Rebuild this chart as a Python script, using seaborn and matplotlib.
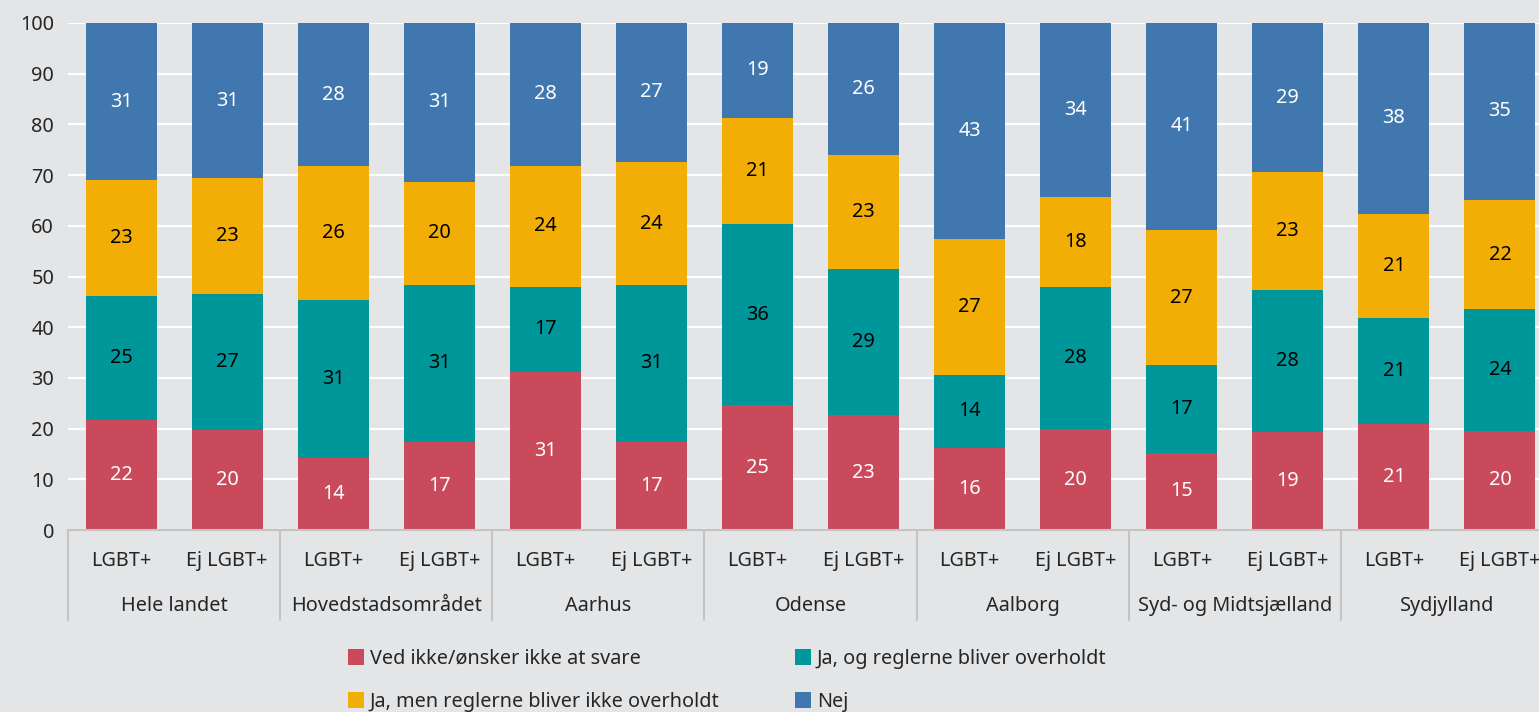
import numpy as np
import pandas as pd
import matplotlib
matplotlib.use('Agg')
import matplotlib.pyplot as plt
import seaborn as sns
from matplotlib.lines import Line2D

# Data (percent of respondents)
groups = ['Hele landet', 'Hovedstadsområdet', 'Aarhus', 'Odense',
          'Aalborg', 'Syd- og Midtsjælland', 'Sydjylland']
subgroups = ['LGBT+', 'Ej LGBT+']

ved_ikke = [21.6, 19.8, 14.2, 17.4, 31.2, 17.4, 24.6, 22.6, 16.2, 19.9, 15.2, 19.4, 21.0, 19.6]
ja_overholdt = [24.6, 26.7, 31.1, 30.9, 16.8, 30.9, 35.8, 28.8, 14.4, 28.0, 17.3, 28.0, 20.8, 23.9]
ja_ikke_overholdt = [22.8, 22.9, 26.4, 20.4, 23.8, 24.3, 20.9, 22.6, 26.8, 17.7, 26.7, 23.2, 20.6, 21.6]
nej = [31.0, 30.6, 28.3, 31.3, 28.2, 27.4, 18.7, 26.0, 42.6, 34.4, 40.8, 29.4, 37.6, 34.9]

series_names = ['Ved ikke/ønsker ikke at svare', 'Ja, og reglerne bliver overholdt',
                'Ja, men reglerne bliver ikke overholdt', 'Nej']
colors = ['#C94B5B', '#00979B', '#F2AE05', '#3F77AE']
text_colors = ['white', 'black', 'black', 'white']

BG = '#E4E5E7'
FONT = 'Noto Sans'
FS = 14.3

# build table
keys = [f'{g}|{s}' for g in groups for s in subgroups]
df = pd.DataFrame({'key': keys,
                   series_names[0]: ved_ikke,
                   series_names[1]: ja_overholdt,
                   series_names[2]: ja_ikke_overholdt,
                   series_names[3]: nej})
cum = df[series_names].cumsum(axis=1)

sns.set_theme(style='white')
plt.rcParams['font.family'] = [FONT, 'DejaVu Sans']

fig = plt.figure(figsize=(15.39, 7.12), dpi=100, facecolor=BG)
ax = fig.add_axes([68 / 1539, 1 - 530 / 712, (1553 - 68) / 1539, (530 - 23) / 712])
ax.set_facecolor(BG)

# stacked bars: draw cumulative totals from the top layer down
for i in range(len(series_names) - 1, -1, -1):
    sns.barplot(data=cum.assign(key=df['key']), x='key', y=series_names[i], order=keys,
                color=colors[i], saturation=1, width=0.67, linewidth=0, ax=ax, zorder=2)

# segment labels
for j in range(len(keys)):
    bottom = 0
    for i, name in enumerate(series_names):
        v = df[name].iloc[j]
        ax.text(j, bottom + v / 2, f'{v:.0f}', ha='center', va='center',
                color=text_colors[i], fontsize=FS, zorder=3)
        bottom += v

ax.set_ylim(0, 100)
ax.set_xlim(-0.5, len(keys) - 0.5)
ax.set_yticks(range(0, 101, 10))
ax.yaxis.grid(True, color='white', linewidth=1.6, zorder=0)
ax.set_axisbelow(True)
ax.tick_params(axis='y', length=0, labelsize=FS, pad=10)
ax.tick_params(axis='x', length=0, labelsize=FS, pad=15)
ax.set_xticks(range(len(keys)))
ax.set_xticklabels([s for g in groups for s in subgroups])
ax.set_xlabel('')
ax.set_ylabel('')
for sp in ['top', 'right', 'left']:
    ax.spines[sp].set_visible(False)
ax.spines['bottom'].set_color('#C4C4C4')
ax.spines['bottom'].set_linewidth(1.5)

# group labels and separators
trans = ax.get_xaxis_transform()
for k, g in enumerate(groups):
    ax.text(2 * k + 0.5, -0.150, g, transform=trans, ha='center', va='center', fontsize=FS)
for k in range(len(groups) + 1):
    ax.plot([2 * k - 0.5, 2 * k - 0.5], [0, -0.177], transform=trans,
            color='#C4C4C4', linewidth=1.5, clip_on=False)

# legend
handles = [Line2D([], [], marker='s', linestyle='none', markersize=11,
                  markerfacecolor=c, markeredgewidth=0) for c in colors]
order = [0, 2, 1, 3]
fig.legend([handles[i] for i in order], [series_names[i] for i in order],
           ncol=2, loc='upper left', bbox_to_anchor=(340 / 1539, 1 - 641 / 712),
           frameon=False, fontsize=FS, handlelength=0.8, handletextpad=0.3,
           columnspacing=3.8, labelspacing=1.15, borderaxespad=0)

fig.savefig('out.png', dpi=100, facecolor=BG)
